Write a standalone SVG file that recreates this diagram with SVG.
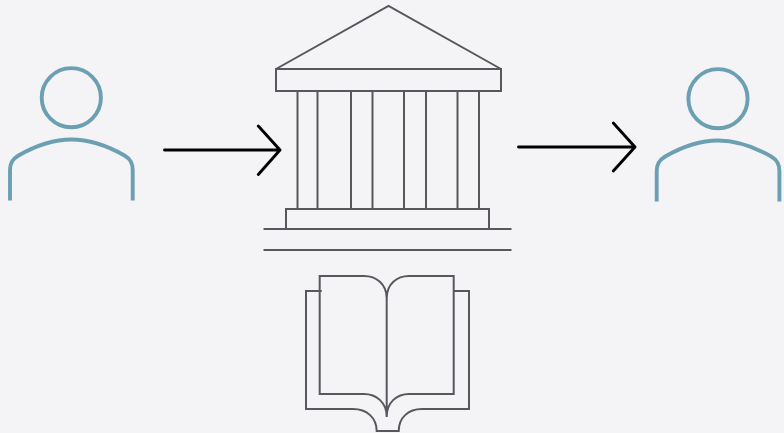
<svg xmlns="http://www.w3.org/2000/svg" width="784" height="433" viewBox="0 0 784 433">
<defs>
<style>
.p{fill:none;stroke:#6d9fb3;stroke-width:3.9}
.g{fill:none;stroke:#57575e;stroke-width:2}
.a{fill:none;stroke:#000;stroke-width:2.9;stroke-linecap:round;stroke-linejoin:round}
</style>
<g id="person">
<circle class="p" cx="71.300" cy="97.700" r="29.600"/>
<path class="p" d="M10 200.500V170C10 162 13.500 158.500 18.500 155.500C36 145.500 53 139.500 71.300 139.500C90 139.500 107 145.500 124.500 155.500C129.500 158.500 132.700 162 132.700 170V200.500"/>
</g>
</defs>
<rect width="784" height="433" fill="#f4f4f7"/>
<g id="person-left"><use href="#person"/></g>
<g id="person-right"><use href="#person" x="646.700" y="1"/></g>
<g id="temple">
<path class="g" d="M276 69L388.500 6L501 69"/>
<rect class="g" x="276" y="69" width="225" height="22"/>
<path class="g" d="M297.500 91V209M317.500 91V209M351 91V209M372.500 91V209M404 91V209M426 91V209M457.500 91V209M479 91V209"/>
<rect class="g" x="286" y="209" width="203" height="20"/>
<path class="g" d="M263.500 229H511.500M263.500 250H511.500"/>
</g>
<g id="book">
<path class="g" d="M386.700 298C386.700 284 376 276 364 276H319.700V394H364C376 394 386.700 402 386.700 417V298C386.700 284 397 276 409 276H453.700V394H409C397 394 386.700 402 386.700 417"/>
<path class="g" d="M321.700 291H306V409H353C367 409 376.700 418 376.700 431H398.700C398.700 418 408 409 422 409H469V291H453.700"/>
</g>
<g id="connectors">
<path class="a" d="M164.500 150H280M258.300 126L280 150L258.300 174.500"/>
<path class="a" d="M518.500 147H635M613.300 123L635 147L613.300 171"/>
</g>
</svg>
